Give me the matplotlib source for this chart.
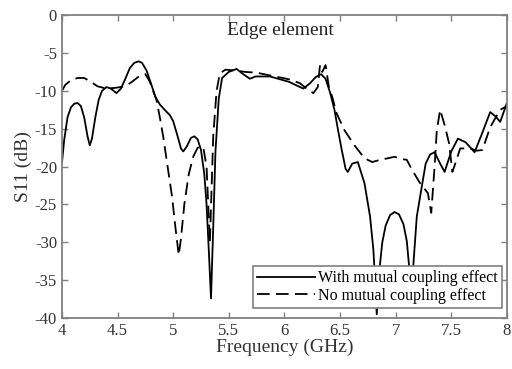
import matplotlib
matplotlib.use('Agg')
import matplotlib.pyplot as plt

# Times 風のフォント
plt.rcParams['font.family'] = ['Liberation Serif', 'DejaVu Serif']

# 相互結合あり（実線）
freq_with = [4.00, 4.02, 4.05, 4.08, 4.11, 4.14, 4.17, 4.20, 4.23, 4.25,
             4.27, 4.30, 4.33, 4.36, 4.40, 4.44, 4.49, 4.53, 4.57, 4.61,
             4.65, 4.69, 4.72, 4.76, 4.80, 4.84, 4.88, 4.93, 4.97, 5.00,
             5.04, 5.07, 5.09, 5.12, 5.16, 5.19, 5.22, 5.25, 5.28, 5.30,
             5.32, 5.34, 5.36, 5.38, 5.41, 5.44, 5.50, 5.57, 5.63, 5.69,
             5.74, 5.87, 6.04, 6.17, 6.23, 6.28, 6.33, 6.37, 6.41, 6.45,
             6.48, 6.51, 6.55, 6.57, 6.61, 6.66, 6.72, 6.77, 6.80, 6.815,
             6.83, 6.845, 6.86, 6.88, 6.91, 6.95, 6.99, 7.03, 7.07, 7.10,
             7.12, 7.14, 7.16, 7.19, 7.24, 7.27, 7.31, 7.35, 7.40, 7.44,
             7.50, 7.56, 7.63, 7.71, 7.78, 7.85, 7.90, 7.94, 8.00]
s11_with = [-19.5, -16.5, -13.5, -12.2, -11.7, -11.6, -12.0, -13.5, -16.0, -17.2,
            -16.3, -13.5, -11.2, -10.0, -9.5, -9.7, -10.3, -9.7, -8.4, -7.0,
            -6.3, -6.1, -6.3, -7.3, -9.0, -10.8, -11.8, -12.6, -13.2, -14.0,
            -16.0, -17.6, -18.0, -17.4, -16.2, -16.0, -16.4, -17.8, -21.0, -25.0,
            -31.0, -37.4, -28.0, -18.0, -11.0, -8.3, -7.5, -7.1, -7.8, -8.4,
            -8.1, -8.1, -8.8, -9.7, -9.0, -8.2, -7.8, -8.4, -10.2, -12.5,
            -15.0, -17.4, -20.3, -20.7, -19.6, -19.4, -22.2, -26.6, -31.0, -35.0,
            -39.5, -36.0, -32.8, -30.0, -27.8, -26.4, -26.0, -26.3, -27.6, -29.8,
            -33.0, -36.0, -32.8, -26.6, -22.2, -19.6, -18.4, -18.1, -19.6, -20.7,
            -18.0, -16.3, -16.8, -18.1, -15.5, -12.8, -13.4, -14.1, -11.6]

# 相互結合なし（破線）
freq_no = [4.00, 4.03, 4.08, 4.14, 4.20, 4.26, 4.32, 4.40, 4.48, 4.57,
           4.63, 4.70, 4.75, 4.79, 4.82, 4.85, 4.88, 4.91, 4.95, 4.99,
           5.02, 5.05, 5.07, 5.10, 5.14, 5.18, 5.22, 5.27, 5.30, 5.33,
           5.36, 5.39, 5.42, 5.47, 5.55, 5.65, 5.75, 5.85, 5.95, 6.05,
           6.14, 6.20, 6.26, 6.30, 6.32, 6.34, 6.37, 6.40, 6.43, 6.47,
           6.54, 6.63, 6.72, 6.79, 6.86, 6.93, 6.99, 7.05, 7.10, 7.15,
           7.22, 7.29, 7.32, 7.35, 7.37, 7.40, 7.44, 7.48, 7.51, 7.55,
           7.58, 7.67, 7.73, 7.78, 7.85, 7.90, 7.94, 8.00]
s11_no = [-10.0, -9.2, -8.6, -8.3, -8.3, -8.8, -9.4, -9.7, -9.6, -9.4,
          -8.8, -8.0, -7.8, -8.8, -10.0, -11.2, -13.5, -16.0, -20.0, -24.0,
          -28.0, -31.7, -29.5, -25.0, -21.0, -18.7, -17.5, -17.4, -20.0, -30.0,
          -16.0, -10.0, -7.7, -7.2, -7.3, -7.5, -7.6, -7.9, -8.2, -8.5,
          -9.0, -9.7, -10.3, -9.5, -6.6, -7.5, -6.6, -9.5, -10.8, -13.0,
          -15.2, -17.2, -18.9, -19.4, -19.1, -18.9, -18.7, -19.0, -19.1, -20.5,
          -22.2, -23.5, -26.1, -20.0, -15.2, -12.5, -14.5, -16.9, -20.7, -19.0,
          -17.6, -17.6, -17.9, -17.8, -14.8, -13.5, -12.5, -12.0]

x_ticks = [4, 4.5, 5, 5.5, 6, 6.5, 7, 7.5, 8]
x_labels = ['4', '4.5', '5', '5.5', '6', '6.5', '7', '7.5', '8']
y_ticks = [0, -5, -10, -15, -20, -25, -30, -35, -40]
y_labels = ['0', '-5', '-10', '-15', '-20', '-25', '-30', '-35', '-40']

fig = plt.figure(figsize=(5.12, 3.69), dpi=100)
ax = fig.add_axes([0.121, 0.138, 0.869, 0.821])

ax.plot(freq_with, s11_with, color='black', lw=1.3, label='With mutual coupling effect')
ax.plot(freq_no, s11_no, color='black', lw=1.3, dashes=(7, 3.5), label='No mutual coupling effect')

ax.set_xlim(4, 8)
ax.set_ylim(-40, 0)
ax.set_xticks(x_ticks)
ax.set_xticklabels(x_labels)
ax.set_yticks(y_ticks)
ax.set_yticklabels(y_labels)

ax.tick_params(direction='in', length=4, width=1, colors='#808080',
               labelcolor='#333333', labelsize=12, top=True, right=True)
for sp in ax.spines.values():
    sp.set_color('#808080')
    sp.set_linewidth(1.3)

ax.set_xlabel('Frequency (GHz)', fontsize=14, color='#333333', labelpad=0)
ax.set_ylabel('S11 (dB)', fontsize=14, color='#333333', labelpad=2)
ax.text(0.49, 0.95, 'Edge element', transform=ax.transAxes,
        ha='center', va='center', fontsize=14, color='#222222')

leg = ax.legend(loc='lower right', bbox_to_anchor=(0.988, 0.033), borderaxespad=0,
                fontsize=11.5, handlelength=3.6, handletextpad=0.2,
                labelspacing=0.1, borderpad=0.25, fancybox=False, framealpha=1)
leg.get_frame().set_edgecolor('#808080')
leg.get_frame().set_linewidth(1.2)

fig.savefig('out.png', dpi=100)
